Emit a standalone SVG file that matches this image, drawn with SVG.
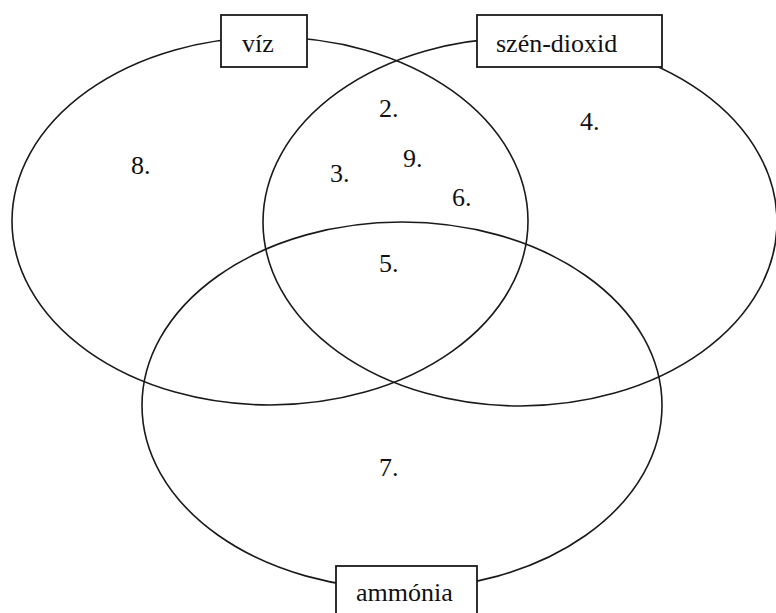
<svg xmlns="http://www.w3.org/2000/svg" width="776" height="613" viewBox="0 0 776 613">
<style>
.set{fill:none;stroke:#1a1a1a;stroke-width:1.6}
.box{fill:#fff;stroke:#1a1a1a;stroke-width:1.8}
.t{font-family:'Liberation Serif','Tinos','DejaVu Serif',serif;font-size:26px;fill:#111}
</style>
<rect width="776" height="613" fill="#fff"/>
<g id="set-viz">
<ellipse class="set" cx="270" cy="221" rx="258" ry="184"/>
<rect class="box" x="221" y="15" width="86" height="52"/>
<text class="t" font-family="Liberation Serif, serif" x="242" y="52">víz</text>
</g>
<g id="set-szen-dioxid">
<ellipse class="set" cx="520" cy="222" rx="257" ry="184"/>
<rect class="box" x="477" y="15" width="185" height="52"/>
<text class="t" font-family="Liberation Serif, serif" x="496" y="52">szén-dioxid</text>
</g>
<g id="set-ammonia">
<ellipse class="set" cx="402" cy="405.5" rx="260" ry="183.5"/>
<rect class="box" x="336" y="566" width="141" height="60"/>
<text class="t" font-family="Liberation Serif, serif" x="356" y="601">ammónia</text>
</g>
<g id="regions" font-family="Liberation Serif, serif">
<text class="t" x="131" y="174">8.</text>
<text class="t" x="379" y="117">2.</text>
<text class="t" x="330" y="182">3.</text>
<text class="t" x="403" y="167">9.</text>
<text class="t" x="452" y="206">6.</text>
<text class="t" x="580" y="130">4.</text>
<text class="t" x="379" y="272">5.</text>
<text class="t" x="379" y="476">7.</text>
</g>
</svg>
